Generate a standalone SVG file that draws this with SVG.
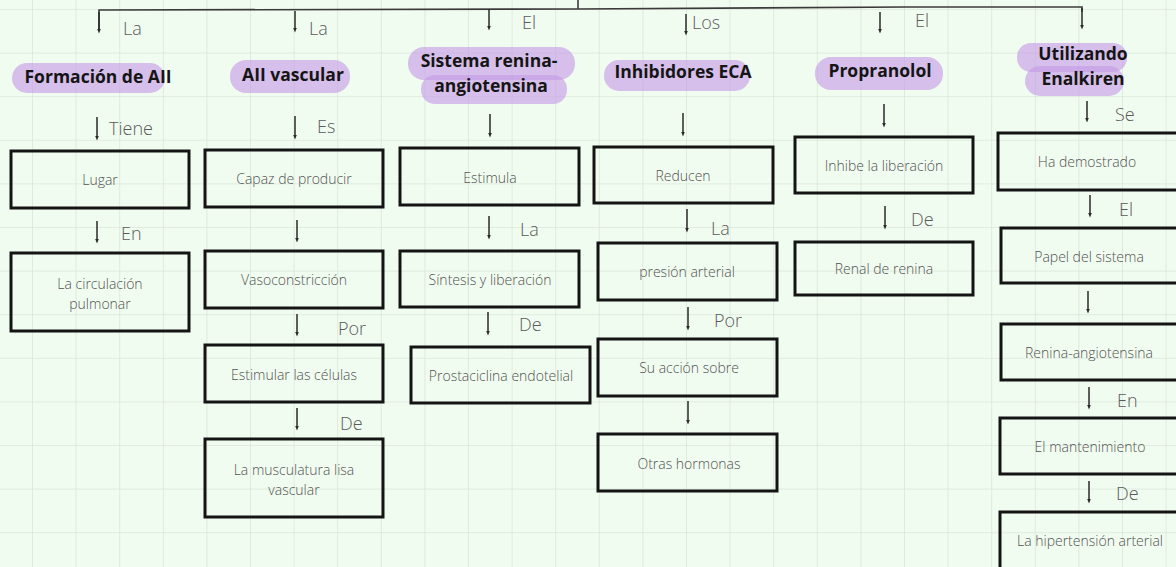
<svg xmlns="http://www.w3.org/2000/svg" width="1176" height="567" viewBox="0 0 1176 567">
<style>
.bg{fill:#f1fcf0}
.box{fill:none;stroke:#141414;stroke-width:3}
.bt{font-family:"Open Sans","Liberation Sans",sans-serif;font-size:14px;fill:#525252;text-anchor:middle;font-weight:300}
.ht{font-family:"Open Sans","Liberation Sans",sans-serif;font-size:17.5px;font-weight:700;fill:#151515;text-anchor:middle}
.lb{font-family:"Open Sans","Liberation Sans",sans-serif;font-size:18px;fill:#5a5a5a;font-weight:300}
.pill{fill:#c599e6;opacity:0.62}
.ar{stroke:#2a2a2a;stroke-width:1.5;fill:none;marker-end:url(#ah)}
.ln{stroke:#3a3a3a;stroke-width:1.6;fill:none}
</style>
<defs>
<pattern id="grid" x="32" y="9" width="43.6" height="43.6" patternUnits="userSpaceOnUse">
<path d="M0,0 V43.6 M0,0 H43.6" stroke="#dbe6da" stroke-width="1.6" fill="none"/>
</pattern>
<marker id="ah" viewBox="0 0 10 10" refX="5" refY="5" markerWidth="5" markerHeight="5" markerUnits="userSpaceOnUse" orient="auto">
<path d="M0,1 L10,5 L0,9 z" fill="#2a2a2a"/>
</marker>
</defs>
<rect class="bg" x="0" y="0" width="1176" height="567"/>
<rect x="0" y="0" width="1176" height="567" fill="url(#grid)"/>

<g id="connectors">
<path class="ln" d="M578,0 V9"/>
<path class="ln" d="M99,30 V10 L578,9 L906,7 L1082,7 V12"/>
<path class="ar" d="M1082,8 V27"/>
<path class="ar" d="M99,12 V31"/>
<path class="ar" d="M295,11 V30"/>
<path class="ar" d="M489,9 V28"/>
<path class="ar" d="M686,14 V33"/>
<path class="ar" d="M880,12 V31"/>
<path class="ar" d="M97,117 V138"/>
<path class="ar" d="M295,116 V137"/>
<path class="ar" d="M490,114 V135"/>
<path class="ar" d="M683,113 V134"/>
<path class="ar" d="M884,104 V125"/>
<path class="ar" d="M1087,101 V120"/>
<path class="ar" d="M97,221 V241"/>
<path class="ar" d="M297,220 V240"/>
<path class="ar" d="M297,314 V334"/>
<path class="ar" d="M297,408 V428"/>
<path class="ar" d="M489,216 V237"/>
<path class="ar" d="M488,312 V333"/>
<path class="ar" d="M687,209 V230"/>
<path class="ar" d="M688,307 V328"/>
<path class="ar" d="M688,401 V422"/>
<path class="ar" d="M885,206 V227"/>
<path class="ar" d="M1090,195 V215"/>
<path class="ar" d="M1088,291 V311"/>
<path class="ar" d="M1089,387 V407"/>
<path class="ar" d="M1089,481 V501"/>
<text class="lb" x="123" y="35">La</text>
<text class="lb" x="309" y="35">La</text>
<text class="lb" x="522" y="29">El</text>
<text class="lb" x="692" y="29">Los</text>
<text class="lb" x="915" y="27">El</text>
<text class="lb" x="109" y="135">Tiene</text>
<text class="lb" x="317" y="133">Es</text>
<text class="lb" x="1115" y="121">Se</text>
<text class="lb" x="121" y="240">En</text>
<text class="lb" x="338" y="335">Por</text>
<text class="lb" x="340" y="430">De</text>
<text class="lb" x="520" y="236">La</text>
<text class="lb" x="519" y="331">De</text>
<text class="lb" x="711" y="235">La</text>
<text class="lb" x="714" y="327">Por</text>
<text class="lb" x="911" y="226">De</text>
<text class="lb" x="1119" y="216">El</text>
<text class="lb" x="1117" y="407">En</text>
<text class="lb" x="1116" y="500">De</text>
</g>

<g id="h1"><rect class="pill" x="12" y="63" width="153" height="30" rx="15"/><text class="ht" x="98" y="83">Formación de AII</text></g>
<g id="h2"><rect class="pill" x="230" y="60" width="120" height="33" rx="16"/><text class="ht" x="293" y="81">AII vascular</text></g>
<g id="h3"><rect class="pill" x="408" y="47" width="167" height="33" rx="16"/><rect class="pill" x="421" y="75" width="146" height="29" rx="14"/><text class="ht" x="489" y="67">Sistema renina-</text><text class="ht" x="491" y="92">angiotensina</text></g>
<g id="h4"><rect class="pill" x="604" y="60" width="146" height="31" rx="15"/><text class="ht" x="683" y="78">Inhibidores ECA</text></g>
<g id="h5"><rect class="pill" x="815" y="57" width="128" height="33" rx="16"/><text class="ht" x="880" y="77">Propranolol</text></g>
<g id="h6"><rect class="pill" x="1017" y="43" width="110" height="29" rx="14"/><rect class="pill" x="1025" y="66" width="99" height="30" rx="15"/><text class="ht" x="1083" y="60">Utilizando</text><text class="ht" x="1083" y="85">Enalkiren</text></g>

<g id="n1a"><rect class="box" x="11" y="151" width="178" height="57"/><text class="bt" x="100" y="185">Lugar</text></g>
<g id="n1b"><rect class="box" x="11" y="253" width="178" height="78"/><text class="bt" x="100" y="289">La circulación</text><text class="bt" x="100" y="309">pulmonar</text></g>

<g id="n2a"><rect class="box" x="205" y="150" width="178" height="57"/><text class="bt" x="294" y="184">Capaz de producir</text></g>
<g id="n2b"><rect class="box" x="205" y="251" width="178" height="57"/><text class="bt" x="294" y="285">Vasoconstricción</text></g>
<g id="n2c"><rect class="box" x="205" y="345" width="178" height="57"/><text class="bt" x="294" y="380">Estimular las células</text></g>
<g id="n2d"><rect class="box" x="205" y="439" width="178" height="78"/><text class="bt" x="294" y="475">La musculatura lisa</text><text class="bt" x="294" y="495">vascular</text></g>

<g id="n3a"><rect class="box" x="400" y="148" width="179" height="57"/><text class="bt" x="490" y="183">Estimula</text></g>
<g id="n3b"><rect class="box" x="400" y="251" width="179" height="56"/><text class="bt" x="490" y="285">Síntesis y liberación</text></g>
<g id="n3c"><rect class="box" x="411" y="347" width="179" height="56"/><text class="bt" x="501" y="381">Prostaciclina endotelial</text></g>

<g id="n4a"><rect class="box" x="594" y="147" width="179" height="56"/><text class="bt" x="683" y="181">Reducen</text></g>
<g id="n4b"><rect class="box" x="598" y="243" width="179" height="57"/><text class="bt" x="687" y="277">presión arterial</text></g>
<g id="n4c"><rect class="box" x="598" y="339" width="179" height="57"/><text class="bt" x="689" y="373">Su acción sobre</text></g>
<g id="n4d"><rect class="box" x="598" y="434" width="179" height="57"/><text class="bt" x="689" y="469">Otras hormonas</text></g>

<g id="n5a"><rect class="box" x="795" y="137" width="178" height="56"/><text class="bt" x="884" y="171">Inhibe la liberación</text></g>
<g id="n5b"><rect class="box" x="795" y="242" width="178" height="53"/><text class="bt" x="884" y="274">Renal de renina</text></g>

<g id="n6a"><rect class="box" x="998" y="133" width="180" height="57"/><text class="bt" x="1087" y="167">Ha demostrado</text></g>
<g id="n6b"><rect class="box" x="1001" y="228" width="177" height="55"/><text class="bt" x="1089" y="262">Papel del sistema</text></g>
<g id="n6c"><rect class="box" x="1001" y="324" width="177" height="56"/><text class="bt" x="1089" y="358">Renina-angiotensina</text></g>
<g id="n6d"><rect class="box" x="1000" y="418" width="178" height="56"/><text class="bt" x="1090" y="452">El mantenimiento</text></g>
<g id="n6e"><rect class="box" x="1000" y="512" width="178" height="60"/><text class="bt" x="1090" y="546">La hipertensión arterial</text></g>
</svg>
